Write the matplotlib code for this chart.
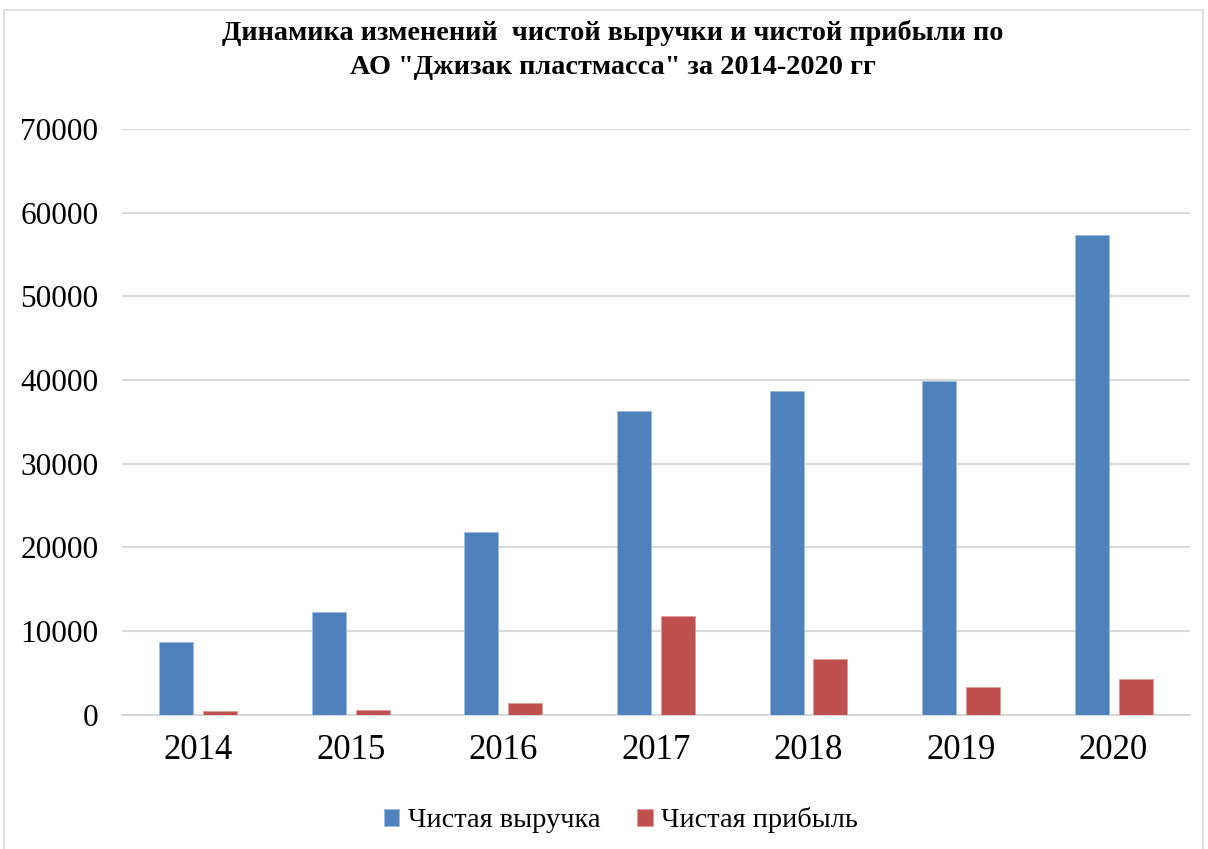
import numpy as np
import matplotlib.pyplot as plt
from matplotlib.patches import Rectangle

# Данные
years = ['2014', '2015', '2016', '2017', '2018', '2019', '2020']
revenue = [8750, 12300, 21800, 36250, 38650, 39870, 57300]
profit = [480, 560, 1400, 11830, 6690, 3310, 4270]

blue = '#4f81bd'
red = '#c0504d'
serif = ['Liberation Serif', 'DejaVu Serif']

fig = plt.figure(figsize=(12.08, 8.49), dpi=100)
fig.patches.append(Rectangle((0.003, -0.01), 0.993, 0.998, transform=fig.transFigure,
                             fill=False, edgecolor='#d9d9d9', linewidth=1.2))

ax = fig.add_axes([0.101, 0.158, 0.884, 0.69])
x = np.arange(len(years))
w = 0.223
off = 0.144
ax.bar(x - off, revenue, w, color=blue, edgecolor='#9dbbe0', linewidth=0.6, label='Чистая выручка', zorder=3)
ax.bar(x + off, profit, w, color=red, edgecolor='#e09a98', linewidth=0.6, label='Чистая прибыль', zorder=3)

ax.set_xlim(-0.5, len(years) - 0.5)
ax.set_ylim(0, 70000)
ax.set_yticks(range(0, 70001, 10000))
ax.set_xticks(x)
ax.set_xticklabels(years, fontsize=25, family=serif)
for lbl in ax.get_yticklabels():
    lbl.set_family(serif)
    lbl.set_fontsize(22.5)
ax.tick_params(axis='y', length=0, pad=17)
ax.tick_params(axis='x', length=0, pad=14)
ax.grid(axis='y', color='#d9d9d9', linewidth=1.5, zorder=0)
for s in ['top', 'right', 'left']:
    ax.spines[s].set_visible(False)
ax.spines['bottom'].set_color('#d9d9d9')
ax.spines['bottom'].set_linewidth(1.5)

fig.text(0.507, 0.976, 'Динамика изменений  чистой выручки и чистой прибыли по\nАО "Джизак пластмасса" за 2014-2020 гг',
         ha='center', va='top', fontsize=20.3, fontweight='bold', family=serif, linespacing=1.45)

fig.legend(loc='center', bbox_to_anchor=(0.514, 0.034), ncol=2, frameon=False,
           prop={'family': serif, 'size': 20.4}, handlelength=0.55, handleheight=0.55,
           handletextpad=0.3, columnspacing=1.3)

fig.savefig('out.png', dpi=100)
